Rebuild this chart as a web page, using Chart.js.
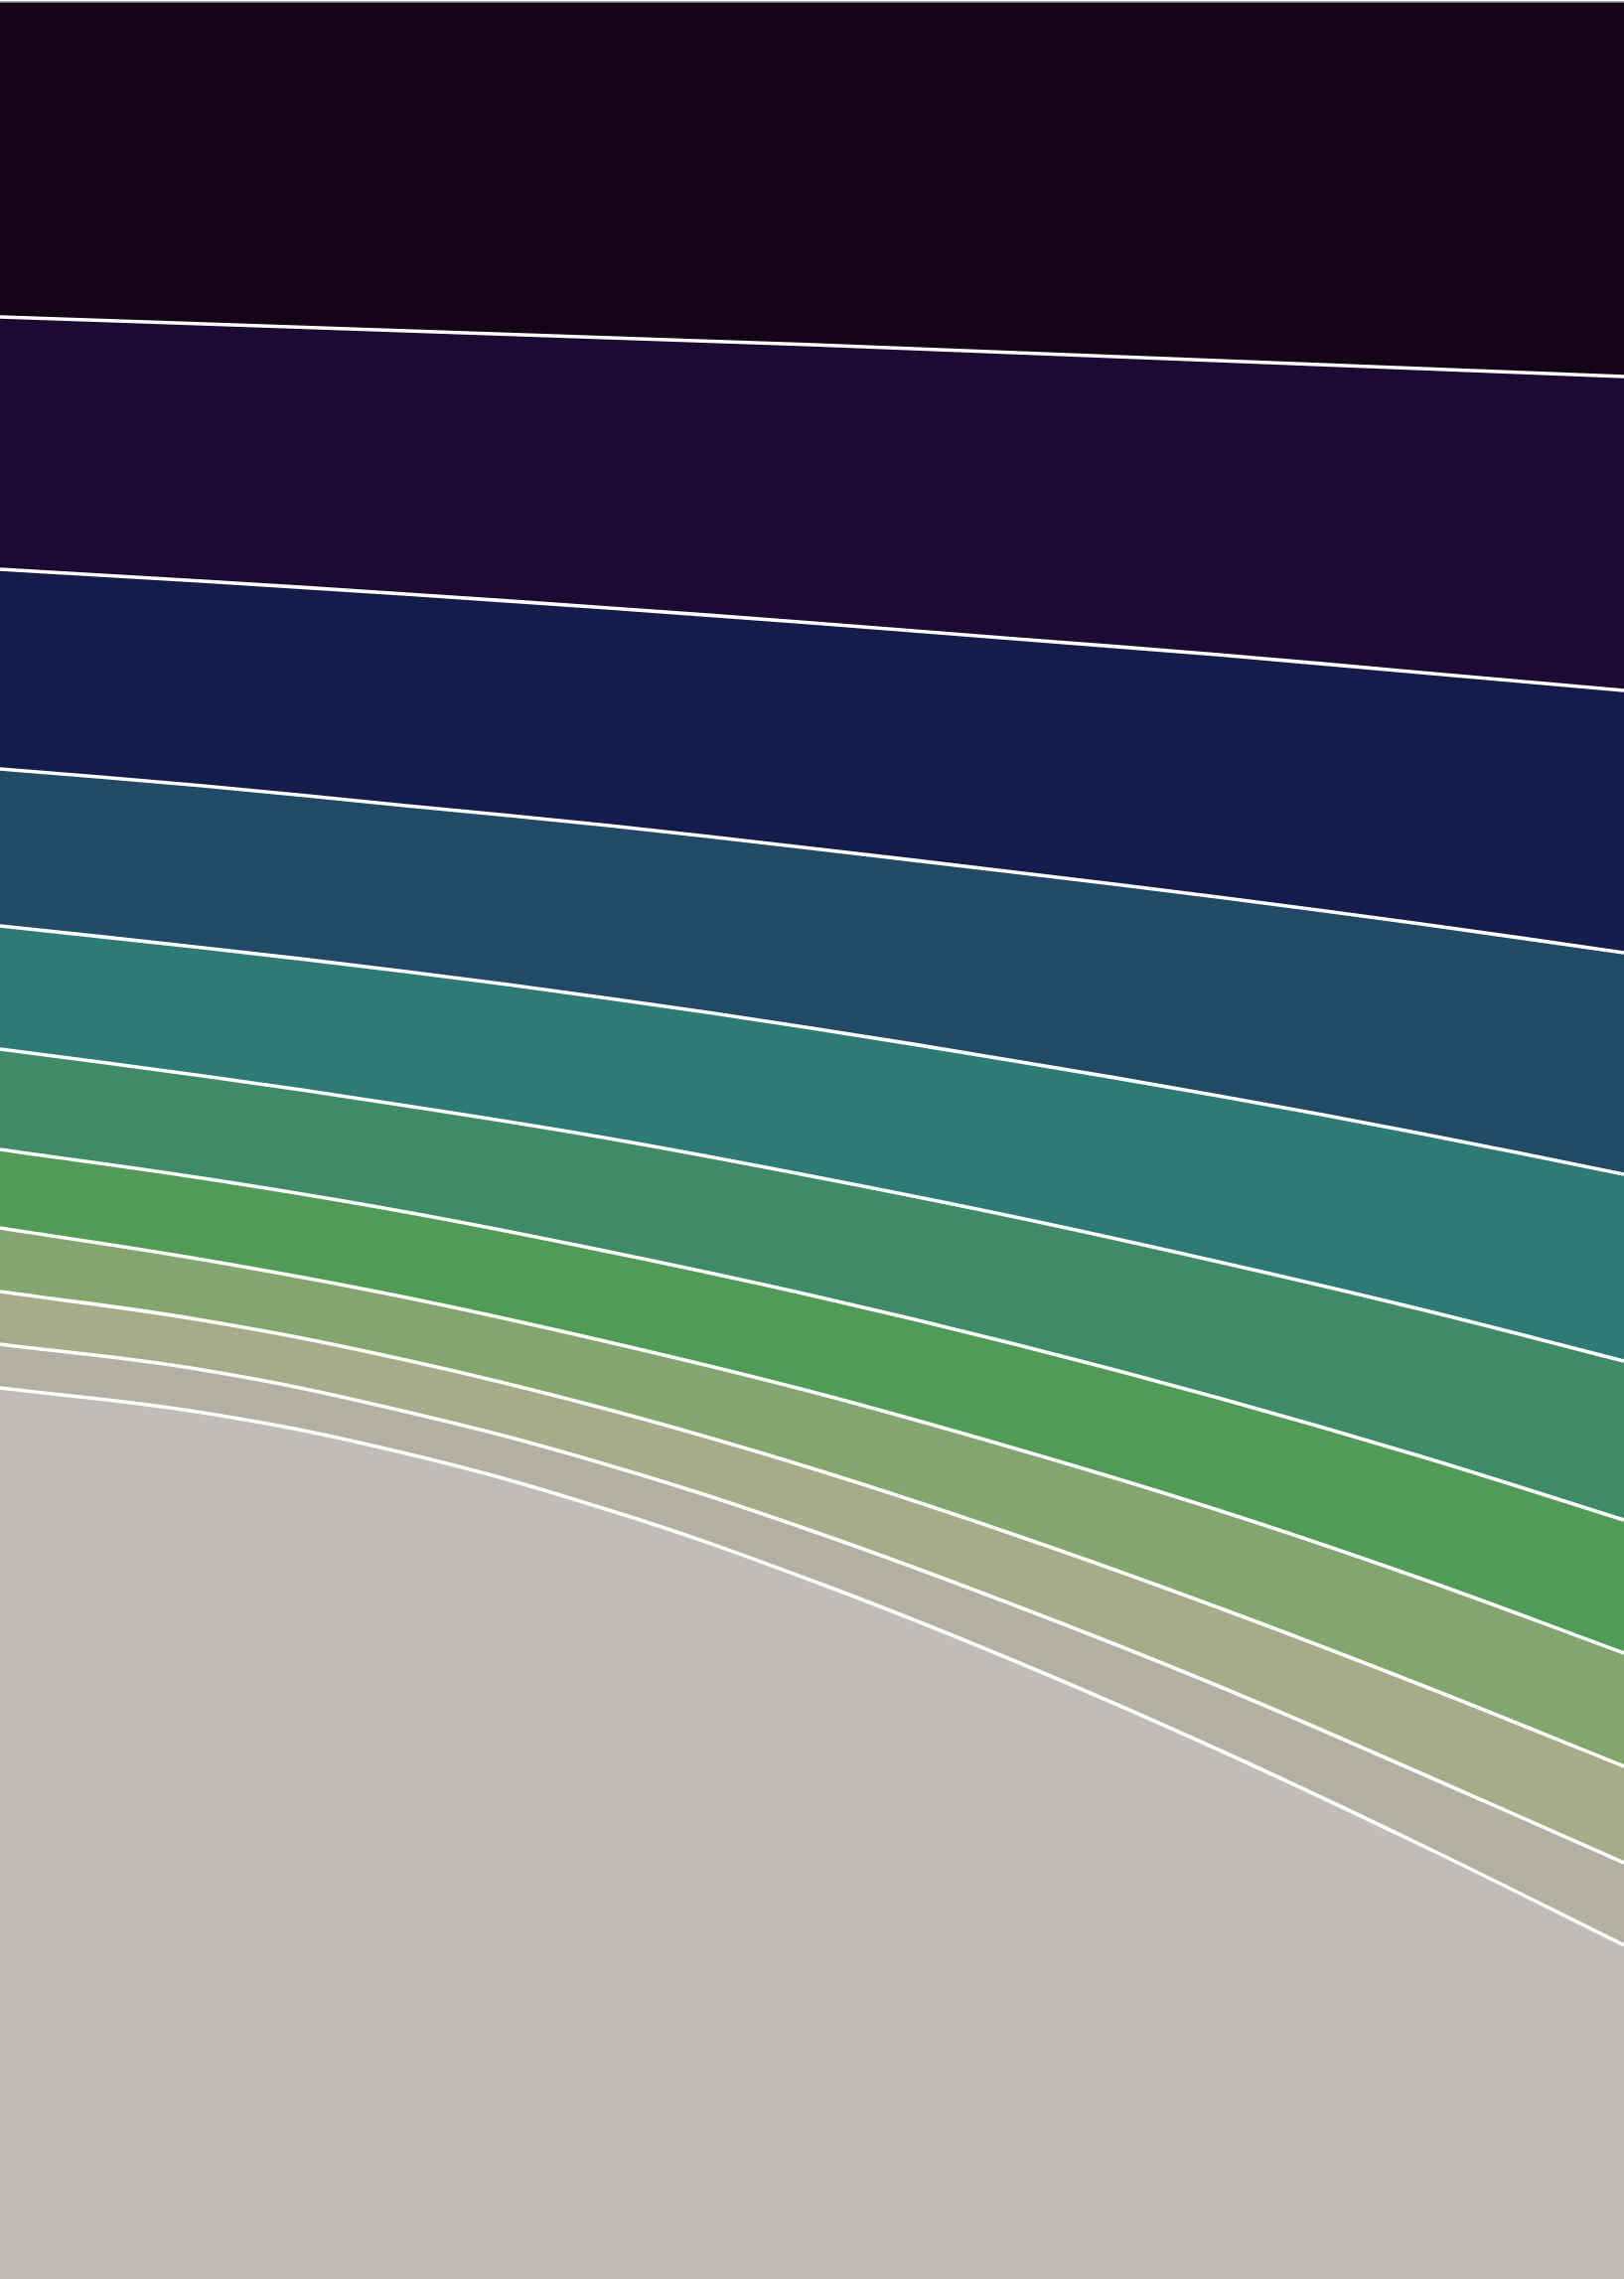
<!DOCTYPE html>
<html>
<head>
<meta charset="utf-8">
<title>Stacked bands</title>
<script src="https://cdn.jsdelivr.net/npm/chart.js@4.4.1/dist/chart.umd.min.js"></script>
<style>
    html, body { margin: 0; padding: 0; background: #ffffff; }
    #wrap { position: relative; width: 1635px; height: 2294px; }
</style>
</head>
<body>
<div id="wrap"><canvas id="bands"></canvas></div>
<script>
// x steps across the page
const categories = ["0", "1", "2", "3", "4", "5", "6", "7", "8"];

// band thickness per step, bottom band first
const greyBand     = [897, 872, 831, 774, 703, 622, 533, 437, 336];
const greigeBand   = [44, 43, 42, 45, 50, 56, 64, 72, 83];
const oliveBand    = [53, 50, 52, 56, 63, 71, 79, 89, 97];
const sageBand     = [64, 61, 63, 68, 77, 87, 98, 107, 114];
const greenBand    = [79, 82, 86, 91, 97, 105, 113, 123, 134];
const seaBand      = [101, 103, 107, 114, 120, 128, 137, 148, 160];
const tealBand     = [124, 129, 135, 141, 149, 157, 167, 177, 188];
const slateBand    = [158, 163, 167, 174, 181, 190, 200, 211, 223];
const navyBand     = [201, 206, 213, 219, 227, 235, 244, 253, 264];
const purpleBand   = [254, 259, 265, 272, 280, 288, 296, 306, 316];
const darkBand     = [317, 324, 331, 338, 345, 353, 361, 369, 377];

const Y_MAX = 2294;

const bands = [
    { data: greyBand,   color: "#c0bcb8" },
    { data: greigeBand, color: "#b2afa3" },
    { data: oliveBand,  color: "#a6ac8a" },
    { data: sageBand,   color: "#83a56e" },
    { data: greenBand,  color: "#529b57" },
    { data: seaBand,    color: "#3f8b68" },
    { data: tealBand,   color: "#2e7a75" },
    { data: slateBand,  color: "#214a66" },
    { data: navyBand,   color: "#151c4c" },
    { data: purpleBand, color: "#1c0a35" },
    { data: darkBand,   color: "#150318" },
];

const datasets = bands.map((band, i) => ({
    data: band.data,
    backgroundColor: band.color,
    borderColor: i === bands.length - 1 ? "#8f8794" : "#ffffff",
    borderWidth: i === bands.length - 1 ? 1.5 : 3.6,
    pointRadius: 0,
    tension: 0.4,
    fill: i === 0 ? "origin" : "-1",
}));

new Chart(document.getElementById("bands"), {
    type: "line",
    data: { labels: categories, datasets },
    options: {
        responsive: true,
        maintainAspectRatio: false,
        animation: false,
        layout: { padding: 0 },
        plugins: { legend: { display: false }, tooltip: { enabled: false } },
        scales: {
            x: { display: false, offset: false },
            y: { display: false, stacked: true, min: 0, max: Y_MAX },
        },
    },
});
</script>
</body>
</html>
